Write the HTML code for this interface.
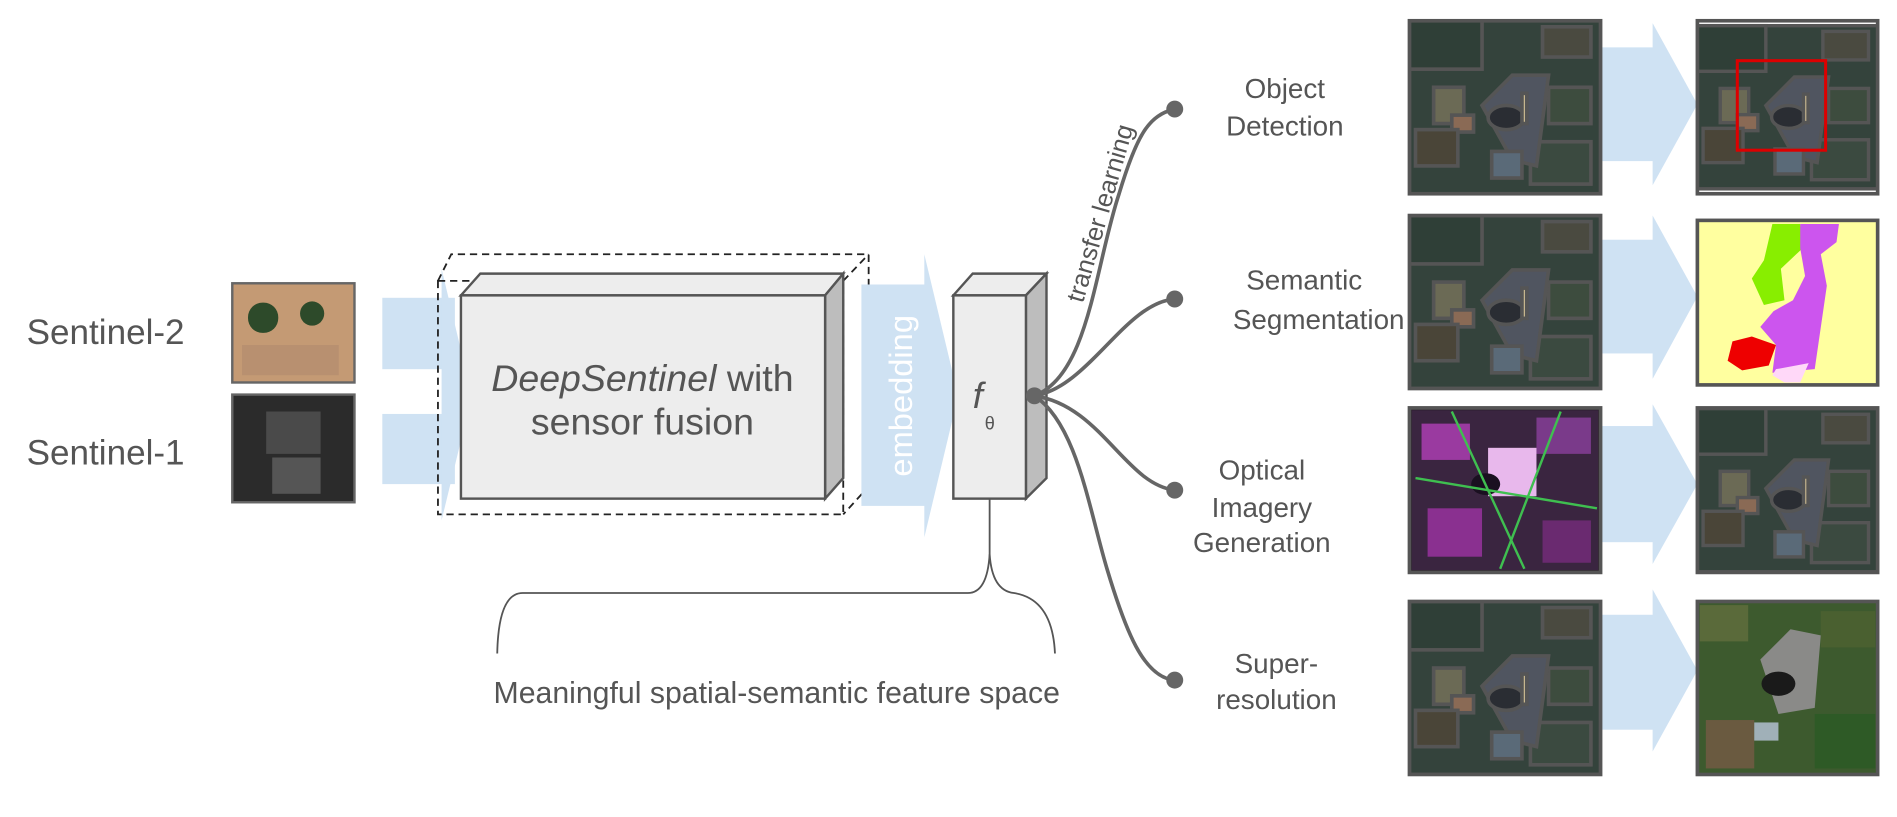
<!DOCTYPE html>
<html><head><meta charset="utf-8"><style>
html,body{margin:0;padding:0;background:#fff;}
svg{display:block;}
text{font-family:"Liberation Sans","DejaVu Sans",sans-serif;fill:#555;}
</style></head><body>
<svg width="1897" height="817" viewBox="0 0 1568 675" xmlns="http://www.w3.org/2000/svg">
<defs>
<symbol id="sat" viewBox="0 0 158 143">
  <rect width="158" height="143" fill="#34433c"/>
  <rect x="0" y="0" width="60" height="40" fill="#2f3f37"/>
  <rect x="110" y="5" width="40" height="25" fill="#4a4a40"/>
  <rect x="20" y="55" width="25" height="30" fill="#6b6a55"/>
  <rect x="35" y="78" width="18" height="14" fill="#8a6a55"/>
  <rect x="5" y="90" width="35" height="30" fill="#4a4538"/>
  <rect x="115" y="55" width="35" height="30" fill="#3d4c3e"/>
  <rect x="100" y="100" width="50" height="35" fill="#3b4a40"/>
  <polygon points="60,70 85,45 115,45 105,120 85,115" fill="#505560"/>
  <ellipse cx="80" cy="80" rx="15" ry="10" fill="#2a2d33"/>
  <rect x="93" y="60" width="4" height="25" fill="#c8b890"/>
  <rect x="68" y="108" width="25" height="22" fill="#5a6a78"/>
</symbol>
</defs>

<text x="22" y="284" font-size="29">Sentinel-2</text>
<text x="22" y="384" font-size="29">Sentinel-1</text>

<rect x="192" y="234" width="101" height="82" fill="#c49a74" stroke="#666" stroke-width="2"/>
<rect x="205" y="250" width="25" height="25" rx="12" fill="#2d4a2a"/>
<circle cx="258" cy="259" r="10" fill="#2d4a2a"/>
<rect x="200" y="285" width="80" height="25" fill="#b89070"/>
<rect x="192" y="326" width="101" height="89" fill="#2b2b2b" stroke="#666" stroke-width="2"/>
<rect x="220" y="340" width="45" height="35" fill="#4a4a4a"/>
<rect x="225" y="378" width="40" height="30" fill="#555"/>

<rect x="316" y="246" width="60" height="59" fill="#cfe2f3"/>
<rect x="316" y="342" width="60" height="58" fill="#cfe2f3"/>
<polygon points="365,222 390,327 365,430" fill="#cfe2f3"/>

<g fill="none" stroke="#222" stroke-width="1.5" stroke-dasharray="6,4">
  <rect x="362" y="232" width="335" height="193"/>
  <polyline points="362,232 373,210 718,210 718,402 697,425"/>
  <line x1="697" y1="232" x2="718" y2="210"/>
</g>

<polygon points="381,244 397,226 697,226 682,244" fill="#ededed" stroke="#555" stroke-width="2"/>
<polygon points="682,244 697,226 697,395 682,412" fill="#bdbdbd" stroke="#555" stroke-width="2"/>
<rect x="381" y="244" width="301" height="168" fill="#ededed" stroke="#555" stroke-width="2"/>
<text x="531" y="323" font-size="31" text-anchor="middle"><tspan font-style="italic">DeepSentinel</tspan> with</text>
<text x="531" y="359" font-size="31" text-anchor="middle">sensor fusion</text>

<rect x="712" y="235" width="54" height="183" fill="#cfe2f3"/>
<polygon points="764,210 792,327 764,444" fill="#cfe2f3"/>
<text x="0" y="0" font-size="27" style="fill:#fff" text-anchor="middle" transform="translate(754,327) rotate(-90)">embedding</text>

<polygon points="788,244 804,226 865,226 848,244" fill="#ededed" stroke="#555" stroke-width="2"/>
<polygon points="848,244 865,226 865,395 848,412" fill="#bdbdbd" stroke="#555" stroke-width="2"/>
<rect x="788" y="244" width="60" height="168" fill="#ededed" stroke="#555" stroke-width="2"/>
<text x="804" y="337" font-size="30" font-style="italic">f</text>
<text x="814" y="355" font-size="15">θ</text>

<path d="M818,412 L818,458 Q816,490 800,490 L432,490 Q412,490 411,540" fill="none" stroke="#555" stroke-width="1.5"/>
<path d="M818,458 Q820,488 838,490 Q870,495 872,540" fill="none" stroke="#555" stroke-width="1.5"/>
<text x="642" y="581" font-size="25" text-anchor="middle">Meaningful spatial-semantic feature space</text>

<g fill="none" stroke="#666" stroke-width="3">
  <path d="M855,327 C900,310 905,220 925,160 C940,110 950,95 971,90"/>
  <path d="M855,327 C900,320 930,250 971,247"/>
  <path d="M855,327 C910,335 930,400 971,405"/>
  <path d="M855,327 C890,350 900,420 915,470 C930,520 945,560 971,562"/>
</g>
<circle cx="855" cy="327" r="7" fill="#666"/>
<circle cx="971" cy="90" r="7" fill="#666"/>
<circle cx="971" cy="247" r="7" fill="#666"/>
<circle cx="971" cy="405" r="7" fill="#666"/>
<circle cx="971" cy="562" r="7" fill="#666"/>
<text x="0" y="0" font-size="21" text-anchor="middle" transform="translate(916,178) rotate(-74)">transfer learning</text>

<g font-size="23" text-anchor="middle">
<text x="1062" y="81">Object</text>
<text x="1062" y="112">Detection</text>
<text x="1078" y="239">Semantic</text>
<text x="1090" y="272">Segmentation</text>
<text x="1043" y="396">Optical</text>
<text x="1043" y="427">Imagery</text>
<text x="1043" y="456">Generation</text>
<text x="1055" y="556">Super-</text>
<text x="1055" y="586">resolution</text>
</g>

<g fill="#cfe2f3">
  <rect x="1320" y="39" width="52" height="94"/><polygon points="1366,19 1403,86 1366,153"/>
  <rect x="1320" y="198" width="52" height="94"/><polygon points="1366,178 1403,245 1366,313"/>
  <rect x="1320" y="352" width="52" height="96"/><polygon points="1366,334 1403,400 1366,466"/>
  <rect x="1320" y="508" width="52" height="95"/><polygon points="1366,487 1403,554 1366,621"/>
</g>

<g stroke="#555" stroke-width="3">
  <use href="#sat" x="1165" y="17" width="158" height="143"/>
  <rect x="1165" y="17" width="158" height="143" fill="none"/>
  <use href="#sat" x="1165" y="178" width="158" height="143"/>
  <rect x="1165" y="178" width="158" height="143" fill="none"/>
  <rect x="1165" y="337" width="158" height="136" fill="#2a1f2a"/>
  <use href="#sat" x="1165" y="497" width="158" height="143"/>
  <rect x="1165" y="497" width="158" height="143" fill="none"/>
</g>
<g stroke="none">
  <rect x="1167" y="339" width="154" height="132" fill="#3a2540"/>
  <rect x="1175" y="350" width="40" height="30" fill="#9a3aa0"/>
  <rect x="1270" y="345" width="45" height="30" fill="#7a3a8a"/>
  <rect x="1180" y="420" width="45" height="40" fill="#8a3090"/>
  <rect x="1275" y="430" width="40" height="35" fill="#6a2a70"/>
  <rect x="1230" y="370" width="40" height="40" fill="#e8b8ec"/>
  <ellipse cx="1228" cy="400" rx="12" ry="9" fill="#1a1020"/>
  <path d="M1170,395 L1320,420 M1200,340 L1260,470 M1290,340 L1240,470" stroke="#3fbf50" stroke-width="2" fill="none"/>
</g>

<g stroke="#555" stroke-width="3">
  <use href="#sat" x="1403" y="17" width="149" height="143"/>
  <rect x="1403" y="17" width="149" height="143" fill="none"/>
  <rect x="1403" y="182" width="149" height="136" fill="#ffff9f"/>
  <use href="#sat" x="1403" y="337" width="149" height="136"/>
  <rect x="1403" y="337" width="149" height="136" fill="none"/>
  <rect x="1403" y="497" width="149" height="143" fill="#3d5a2e"/>
</g>
<rect x="1436" y="50" width="73" height="74" fill="none" stroke="#d00" stroke-width="2.5"/>
<polygon points="1465,185 1488,185 1490,205 1472,222 1475,248 1458,252 1448,230 1458,215" fill="#88ee00"/>
<polygon points="1488,185 1520,185 1518,200 1505,210 1510,236 1500,305 1465,308 1468,285 1455,270 1466,257 1482,248 1492,228 1488,205" fill="#cc55ee"/>
<polygon points="1468,305 1495,300 1488,316 1475,316 1465,310" fill="#ffd8f8"/>
<polygon points="1432,282 1448,278 1468,285 1462,302 1440,306 1428,298" fill="#ee0000"/>
<g stroke="none">
  <rect x="1405" y="500" width="40" height="30" fill="#5a6a3a"/>
  <rect x="1505" y="505" width="45" height="30" fill="#4a6030"/>
  <rect x="1410" y="595" width="40" height="40" fill="#6a5a40"/>
  <rect x="1500" y="590" width="50" height="45" fill="#2e5a26"/>
  <polygon points="1455,545 1480,520 1505,525 1500,585 1470,590" fill="#8a8a88"/>
  <ellipse cx="1470" cy="565" rx="14" ry="10" fill="#1a1a1a"/>
  <rect x="1450" y="597" width="20" height="15" fill="#a0b0b8"/>
</g>
</svg>
</body></html>
